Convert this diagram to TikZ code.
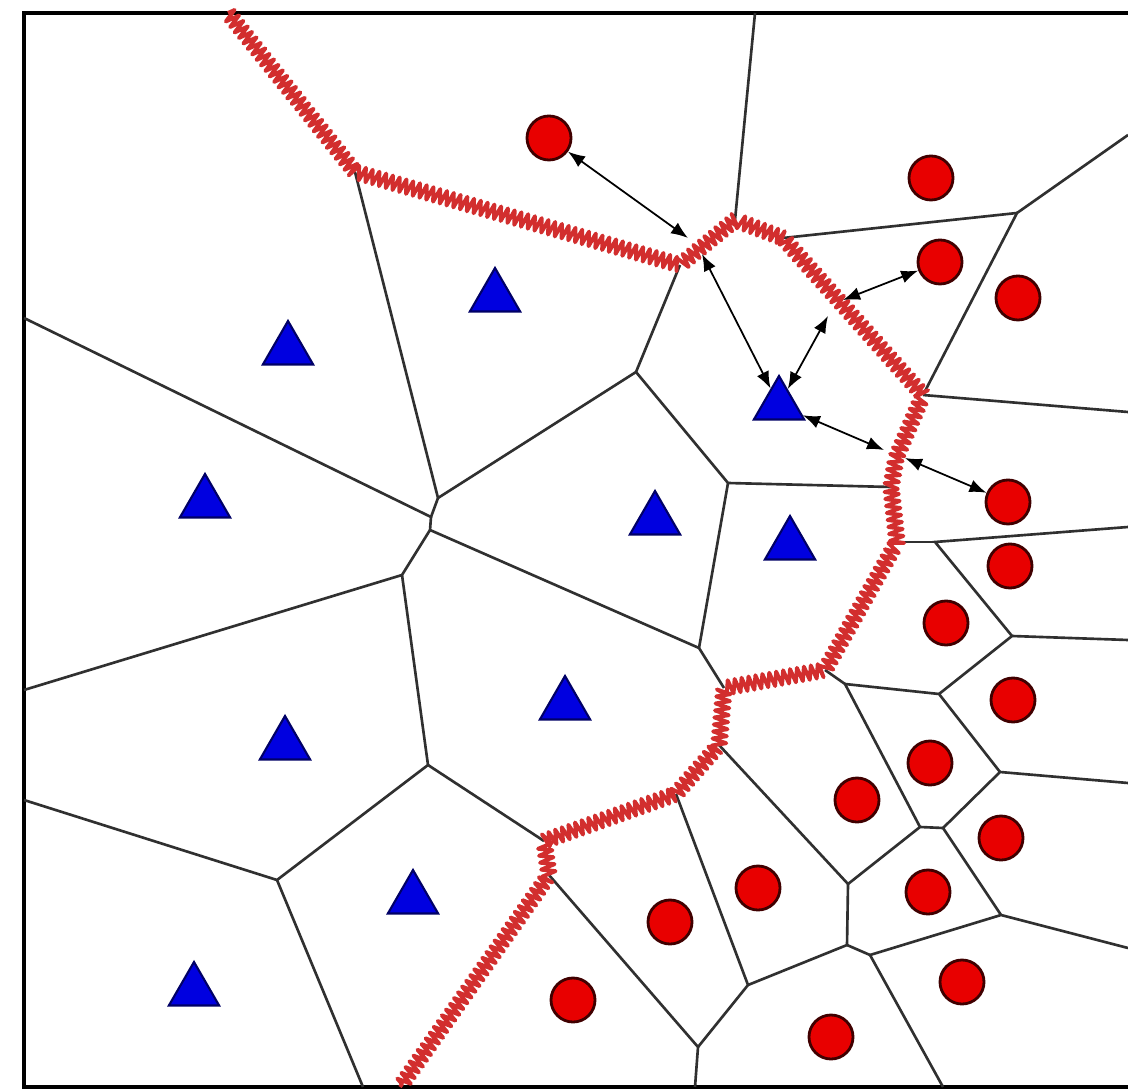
\documentclass[tikz,border=0pt]{standalone}
\usepackage{tikz}
\usetikzlibrary{shapes.geometric,arrows.meta,decorations.pathmorphing}
\definecolor{sitered}{HTML}{E80000}
\definecolor{siteblue}{HTML}{0000E0}
\definecolor{edgegray}{HTML}{303030}
\definecolor{zigred}{HTML}{D22E2E}
\tikzset{
  redsite/.style={circle, draw=black!75!red, fill=sitered, line width=0.8pt, minimum size=0.44cm, inner sep=0pt},
  bluesite/.style={regular polygon, regular polygon sides=3, draw=black!60!blue, fill=siteblue, line width=0.6pt, minimum size=0.58cm, inner sep=0pt},
  celledge/.style={draw=edgegray, line width=0.75pt},
  frameline/.style={draw=black, line width=1.4pt},
  boundary/.style={draw=zigred, line width=1.1pt, line join=round, decorate, decoration={zigzag, segment length=2pt, amplitude=2pt}},
  distarrow/.style={{Latex[length=1.7mm,width=1.3mm]}-{Latex[length=1.7mm,width=1.3mm]}, draw=black, line width=0.5pt}
}

\begin{document}
\begin{tikzpicture}[x=0.01cm, y=-0.01cm]
  \useasboundingbox (0,0) rectangle (1128,1092);
  \fill[white] (0,0) rectangle (1128,1092);
  \draw[frameline] (1140,13) -- (24,13) -- (24,1087) -- (1140,1087);

  % class boundary points
  \coordinate (r0) at (228,13);
  \coordinate (r1) at (355,172);
  \coordinate (r2) at (680,265);
  \coordinate (r3) at (735,220);
  \coordinate (r3b) at (783,238);
  \coordinate (r4) at (923,395);
  \coordinate (r5) at (896,458);
  \coordinate (r5b) at (891,487);
  \coordinate (r6) at (897,542);
  \coordinate (r7) at (825,670);
  \coordinate (r8) at (724,688);
  \coordinate (r9) at (719,745);
  \coordinate (r10) at (676,794);
  \coordinate (r11) at (544,841);
  \coordinate (r12) at (549,875);
  \coordinate (r13) at (400,1087);

  % cell vertices
  \coordinate (v2a) at (438,498);
  \coordinate (v2b) at (431,517);
  \coordinate (v2c) at (430,530);
  \coordinate (v3) at (636,372);
  \coordinate (v5) at (728,483);
  \coordinate (v6) at (699,648);
  \coordinate (vff) at (402,575);
  \coordinate (vee) at (428,765);
  \coordinate (vgg) at (277,880);
  \coordinate (v7) at (1017,213);
  \coordinate (vp) at (935,542);
  \coordinate (vq) at (1012,636);
  \coordinate (vs) at (845,684);
  \coordinate (vt) at (939,694);
  \coordinate (vu) at (1000,772);
  \coordinate (vw) at (920,827);
  \coordinate (vx) at (943,828);
  \coordinate (vy) at (1001,915);
  \coordinate (vz) at (848,884);
  \coordinate (vaa) at (847,945);
  \coordinate (vbb) at (870,955);
  \coordinate (vcc) at (748,985);
  \coordinate (vdd) at (698,1047);
  \coordinate (L1) at (24,318);
  \coordinate (L2) at (24,690);
  \coordinate (L3) at (24,800);
  \coordinate (B1) at (363,1087);
  \coordinate (B2) at (943,1087);
  \coordinate (B3) at (695,1087);
  \coordinate (T0) at (755,13);
  \coordinate (R1) at (1128,135);
  \coordinate (R2) at (1128,412);
  \coordinate (R3) at (1128,527);
  \coordinate (R4) at (1128,640);
  \coordinate (R5) at (1128,783);
  \coordinate (R6) at (1128,948);

  \draw[celledge] (r1) -- (v2a) -- (v3) -- (r2);
  \draw[celledge] (v2a) -- (v2b) -- (L1);
  \draw[celledge] (v2b) -- (v2c) -- (vff) -- (L2);
  \draw[celledge] (v2c) -- (v6) -- (r8);
  \draw[celledge] (v3) -- (v5) -- (r5b);
  \draw[celledge] (v5) -- (v6);
  \draw[celledge] (vff) -- (vee) -- (vgg) -- (L3);
  \draw[celledge] (vgg) -- (B1);
  \draw[celledge] (vee) -- (r11);
  \draw[celledge] (r12) -- (vdd) -- (B3);
  \draw[celledge] (vdd) -- (vcc) -- (r10);
  \draw[celledge] (vcc) -- (vaa) -- (vz) -- (r9);
  \draw[celledge] (vaa) -- (vbb) -- (B2);
  \draw[celledge] (vbb) -- (vy) -- (R6);
  \draw[celledge] (vy) -- (vx) -- (vw) -- (vz);
  \draw[celledge] (vx) -- (vu) -- (R5);
  \draw[celledge] (vw) -- (vs) -- (r7);
  \draw[celledge] (vs) -- (vt) -- (vu);
  \draw[celledge] (vt) -- (vq) -- (R4);
  \draw[celledge] (vq) -- (vp) -- (R3);
  \draw[celledge] (vp) -- (r6);
  \draw[celledge] (r4) -- (R2);
  \draw[celledge] (r4) -- (v7) -- (R1);
  \draw[celledge] (v7) -- (r3b);
  \draw[celledge] (r3) -- (T0);

  \draw[boundary] (r0) -- (r1) -- (r2) -- (r3) -- (r3b) -- (r4) -- (r5) -- (r5b) -- (r6) -- (r7) -- (r8) -- (r9) -- (r10) -- (r11) -- (r12) -- (r13);

  \node[bluesite] (t1) at (288,350) {};
  \node[bluesite] (t2) at (495,297) {};
  \node[bluesite] (t3) at (205,503) {};
  \node[bluesite] (t4) at (655,520) {};
  \node[bluesite] (t5) at (779,405) {};
  \node[bluesite] (t6) at (790,545) {};
  \node[bluesite] (t7) at (565,705) {};
  \node[bluesite] (t8) at (285,745) {};
  \node[bluesite] (t9) at (413,899) {};
  \node[bluesite] (t10) at (194,991) {};

  \node[redsite] (c1) at (549,138) {};
  \node[redsite] (c2) at (931,178) {};
  \node[redsite] (c3) at (940,262) {};
  \node[redsite] (c4) at (1018,298) {};
  \node[redsite] (c5) at (1008,502) {};
  \node[redsite] (c6) at (1010,566) {};
  \node[redsite] (c7) at (946,623) {};
  \node[redsite] (c8) at (1013,700) {};
  \node[redsite] (c9) at (930,763) {};
  \node[redsite] (c10) at (857,800) {};
  \node[redsite] (c11) at (1001,838) {};
  \node[redsite] (c12) at (758,888) {};
  \node[redsite] (c13) at (928,892) {};
  \node[redsite] (c14) at (670,922) {};
  \node[redsite] (c15) at (962,982) {};
  \node[redsite] (c16) at (573,1000) {};
  \node[redsite] (c17) at (831,1037) {};

  \coordinate (pa1) at (688,238);
  \coordinate (pa2) at (702,254);
  \coordinate (pb) at (843,300);
  \coordinate (pc) at (828,316);
  \coordinate (pd) at (884,450);
  \coordinate (pe) at (905,458);
  \draw[distarrow] (c1) -- (pa1);
  \draw[distarrow] (pa2) -- (t5);
  \draw[distarrow] (c3) -- (pb);
  \draw[distarrow] (t5) -- (pc);
  \draw[distarrow] (t5) -- (pd);
  \draw[distarrow] (pe) -- (c5);
\end{tikzpicture}
\end{document}
